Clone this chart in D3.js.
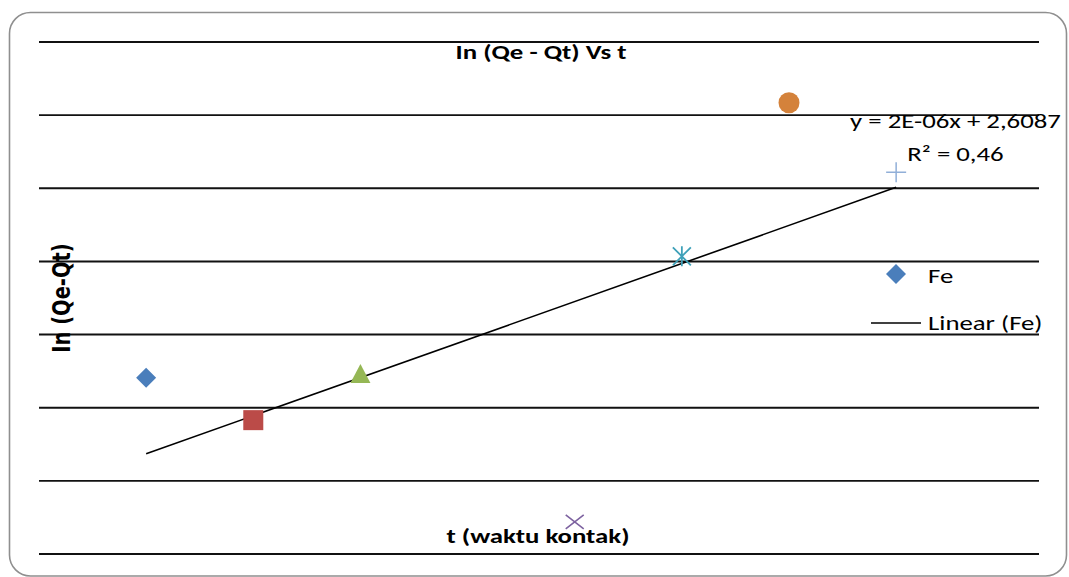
<!DOCTYPE html>
<html>
<head>
<meta charset="utf-8">
<script src="https://cdn.jsdelivr.net/npm/d3@7"></script>
<style>
  html, body { margin: 0; padding: 0; background: #ffffff; }
  svg { display: block; }
  .calib { font-family: "Carlito", "Lato", "Open Sans", sans-serif; }
</style>
</head>
<body>
<svg id="chart" width="1069" height="577"></svg>
<script>
// Contact time t (minutes) and ln(Qe - Qt) for the Fe series
const times = [30, 60, 90, 150, 180, 210, 240];
const lnQeQt = [2.608841, 2.608783, 2.608846, 2.608644, 2.609007, 2.609217, 2.609122];
const seriesName = "Fe";

// Axis extents and gridline values (axis labels are hidden)
const xDomain = [0, 280];
const yTicks = [2.6086, 2.6087, 2.6088, 2.6089, 2.6090, 2.6091, 2.6092, 2.6093];

// Text
const chartTitle = "In (Qe - Qt) Vs t";
const xTitle = "t (waktu kontak)";
const yTitle = "In (Qe-Qt)";

// Per-point marker look (Excel "vary colors by point")
const pointStyles = [
  { shape: "diamond",  color: "#4a7ebb" },
  { shape: "square",   color: "#bb4b48" },
  { shape: "triangle", color: "#95b755" },
  { shape: "x",        color: "#7d62a0" },
  { shape: "star",     color: "#3fa1b9" },
  { shape: "circle",   color: "#d4823b" },
  { shape: "plus",     color: "#91afd8" }
];

const svg = d3.select("#chart");
const W = 1069;
const plot = { left: 39, right: 1039, top: 42, bottom: 554 };
const stretch = 1.34;   // horizontal text stretch of the chart

const x = d3.scaleLinear().domain(xDomain).range([plot.left, plot.right]);
const y = d3.scaleLinear().domain(d3.extent(yTicks)).range([plot.bottom, plot.top]);

// Chart area frame
svg.append("rect")
  .attr("x", 9.5).attr("y", 12.5)
  .attr("width", W - 12).attr("height", 563.5)
  .attr("rx", 21).attr("ry", 21)
  .attr("fill", "#ffffff")
  .attr("stroke", "#8f8f8f")
  .attr("stroke-width", 1.6);

// Horizontal gridlines
svg.append("g")
  .selectAll("line")
  .data(yTicks)
  .join("line")
  .attr("x1", plot.left).attr("x2", plot.right)
  .attr("y1", d => y(d)).attr("y2", d => y(d))
  .attr("stroke", "#111")
  .attr("stroke-width", 1.9);

// Least-squares trendline
const pts = times.map((t, i) => ({ t, v: lnQeQt[i], i }));
const mx = d3.mean(times), my = d3.mean(lnQeQt);
let sxy = 0, sxx = 0, syy = 0;
pts.forEach(p => {
  sxy += (p.t - mx) * (p.v - my);
  sxx += (p.t - mx) ** 2;
  syy += (p.v - my) ** 2;
});
const slope = sxy / sxx;
const intercept = my - slope * mx;
const r2 = (sxy * sxy) / (sxx * syy);

const tMin = d3.min(times), tMax = d3.max(times);
svg.append("line")
  .attr("x1", x(tMin)).attr("y1", y(intercept + slope * tMin))
  .attr("x2", x(tMax)).attr("y2", y(intercept + slope * tMax))
  .attr("stroke", "#000")
  .attr("stroke-width", 1.6);

// Markers
function drawMarker(g, shape, color, cx, cy) {
  if (shape === "diamond") {
    const r = 10;
    g.append("path").attr("d", `M${cx},${cy - r}L${cx + r},${cy}L${cx},${cy + r}L${cx - r},${cy}Z`).attr("fill", color);
  } else if (shape === "square") {
    g.append("rect").attr("x", cx - 10).attr("y", cy - 10).attr("width", 20).attr("height", 20).attr("fill", color);
  } else if (shape === "triangle") {
    g.append("path").attr("d", `M${cx},${cy - 10}L${cx + 10},${cy + 9}L${cx - 10},${cy + 9}Z`).attr("fill", color);
  } else if (shape === "x") {
    g.append("path").attr("d", `M${cx - 9},${cy - 7}L${cx + 9},${cy + 7}M${cx + 9},${cy - 7}L${cx - 9},${cy + 7}`)
      .attr("stroke", color).attr("stroke-width", 1.6).attr("fill", "none");
  } else if (shape === "star") {
    g.append("path").attr("d", `M${cx - 9},${cy - 9}L${cx + 9},${cy + 9}M${cx + 9},${cy - 9}L${cx - 9},${cy + 9}M${cx},${cy - 10}L${cx},${cy + 10}`)
      .attr("stroke", color).attr("stroke-width", 1.8).attr("fill", "none");
  } else if (shape === "circle") {
    g.append("circle").attr("cx", cx).attr("cy", cy).attr("r", 10.5).attr("fill", color);
  } else if (shape === "plus") {
    g.append("path").attr("d", `M${cx - 10},${cy}L${cx + 10},${cy}M${cx},${cy - 10}L${cx},${cy + 10}`)
      .attr("stroke", color).attr("stroke-width", 1.5).attr("fill", "none");
  }
}

const markers = svg.append("g");
pts.forEach(p => {
  const st = pointStyles[p.i];
  drawMarker(markers, st.shape, st.color, x(p.t), y(p.v));
});

// Horizontal text helper (stretched horizontally like the rest of the chart)
function label(px, py, txt, opts = {}) {
  svg.append("g")
    .attr("transform", `translate(${px},${py}) scale(${stretch},1)`)
    .append("text")
    .attr("class", "calib")
    .attr("text-anchor", opts.anchor || "middle")
    .attr("font-size", opts.size || 20)
    .attr("font-weight", opts.bold ? "bold" : "normal")
    .attr("fill", "#000")
    .text(txt);
}

// Trendline equation, formatted the way the spreadsheet shows it
function excelSci(v) {
  const [m, e] = v.toExponential(0).split("e");
  const ev = parseInt(e, 10);
  return m.toUpperCase() + "E" + (ev < 0 ? "-" : "+") + String(Math.abs(ev)).padStart(2, "0");
}
const dec = (v, n) => v.toFixed(n).replace(".", ",");
const eqText = `y = ${excelSci(slope)}x ${intercept < 0 ? "-" : "+"} ${dec(Math.abs(intercept), 4)}`;
const r2Text = `R² = ${dec(r2, 2)}`;

label(955.5, 128, eqText);
label(955.5, 161, r2Text);

// Title and axis titles
label(541, 59, chartTitle, { bold: true });
label(538, 543, xTitle, { bold: true });

svg.append("g")
  .attr("transform", `translate(70,298) rotate(-90) scale(1,1.3)`)
  .append("text")
  .attr("text-anchor", "middle")
  .attr("font-family", "DejaVu Sans, Verdana, sans-serif")
  .attr("font-size", 19.5)
  .attr("font-weight", "bold")
  .attr("fill", "#000")
  .text(yTitle);

// Legend
const legend = svg.append("g");
drawMarker(legend, "diamond", pointStyles[0].color, 896, 274);
label(928, 283, seriesName, { anchor: "start" });
legend.append("line")
  .attr("x1", 871).attr("x2", 921)
  .attr("y1", 323).attr("y2", 323)
  .attr("stroke", "#000").attr("stroke-width", 1.6);
label(928, 330, `Linear (${seriesName})`, { anchor: "start" });
</script>
</body>
</html>
